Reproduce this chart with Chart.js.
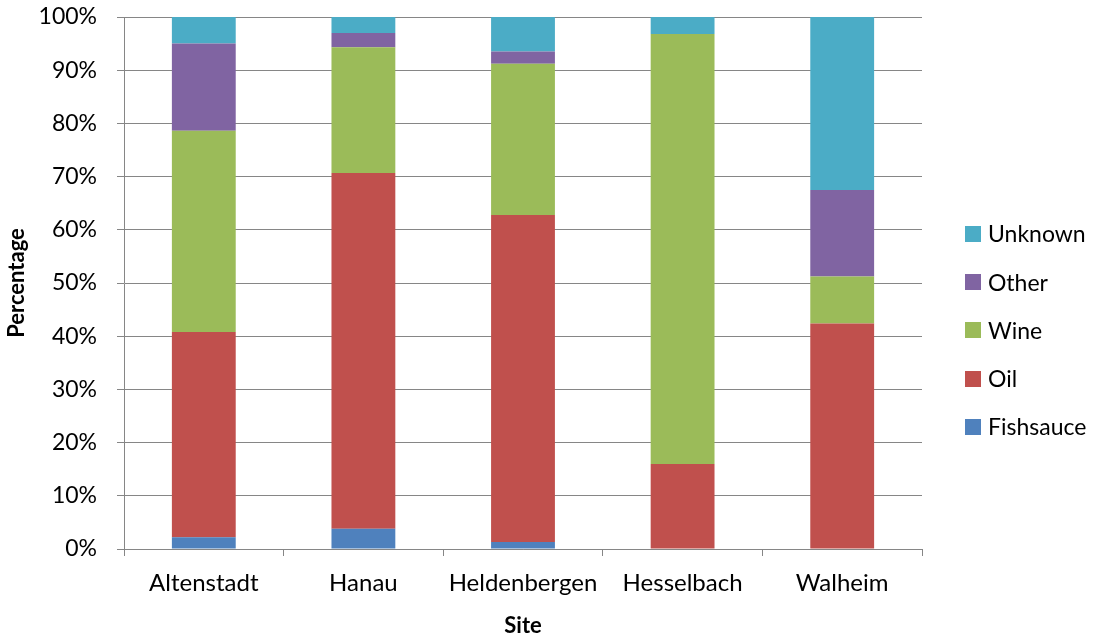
<!DOCTYPE html>
<html>
<head>
<meta charset="utf-8">
<script src="https://cdn.jsdelivr.net/npm/chart.js@4/dist/chart.umd.min.js"></script>
<style>
  html, body { margin: 0; padding: 0; background: #fff; }
  canvas { display: block; }
</style>
</head>
<body>
<canvas id="c" width="1099" height="637"></canvas>
<script>
const categories = ['Altenstadt', 'Hanau', 'Heldenbergen', 'Hesselbach', 'Walheim'];
const fishsauce = [2.2, 3.8, 1.3, 0, 0];
const oil       = [38.6, 66.9, 61.5, 16.0, 42.4];
const wine      = [37.8, 23.6, 28.4, 80.8, 8.8];
const other     = [16.4, 2.7, 2.3, 0, 16.3];
const unknown   = [5.0, 3.0, 6.5, 3.2, 32.5];
const yTicks = [0, 10, 20, 30, 40, 50, 60, 70, 80, 90, 100];

const FONT = 'Lato';
const GRID = '#868686';

const legendPlugin = {
  id: 'sideLegend',
  afterDraw(chart) {
    const ctx = chart.ctx;
    const ds = chart.data.datasets.slice().reverse();
    ctx.save();
    ctx.font = '23px ' + FONT;
    ctx.textBaseline = 'middle';
    ctx.textAlign = 'left';
    ds.forEach((d, i) => {
      const cy = 234 + i * 48.2;
      ctx.fillStyle = d.backgroundColor;
      ctx.fillRect(965, Math.round(cy - 8), 16, 16);
      ctx.fillStyle = '#000';
      ctx.fillText(d.label, 988, cy + 1);
    });
    ctx.restore();
  }
};

new Chart(document.getElementById('c'), {
  type: 'bar',
  data: {
    labels: categories,
    datasets: [
      { label: 'Fishsauce', data: fishsauce, backgroundColor: '#4F81BD' },
      { label: 'Oil', data: oil, backgroundColor: '#C0504D' },
      { label: 'Wine', data: wine, backgroundColor: '#9BBB59' },
      { label: 'Other', data: other, backgroundColor: '#8064A2' },
      { label: 'Unknown', data: unknown, backgroundColor: '#4BACC6' }
    ]
  },
  options: {
    responsive: false,
    animation: false,
    devicePixelRatio: 1,
    layout: { padding: { top: 17, right: 177, bottom: 0, left: 0 } },
    datasets: { bar: { barPercentage: 0.4, categoryPercentage: 1.0, borderWidth: 0, skipNull: true } },
    plugins: { legend: { display: false }, tooltip: { enabled: false } },
    scales: {
      x: {
        stacked: true,
        afterFit: s => { s.height = 88; },
        grid: { drawOnChartArea: false, drawTicks: true, tickLength: 7, color: GRID, offset: true },
        border: { color: GRID, width: 1 },
        ticks: { color: '#000', font: { family: FONT, size: 24 }, padding: 13, maxRotation: 0, autoSkip: false },
        title: { display: true, text: 'Site', color: '#000', font: { family: FONT, size: 22, weight: 'bold', lineHeight: 1.0 }, padding: { top: 0, bottom: 0 } }
      },
      y: {
        stacked: true,
        min: 0, max: 100,
        afterFit: s => { s.width = 124; s.paddingTop = 0; s.paddingBottom = 0; },
        afterBuildTicks: s => { s.ticks = yTicks.map(v => ({ value: v })); },
        grid: { color: GRID, lineWidth: 1, tickLength: 7 },
        border: { color: GRID, width: 1 },
        ticks: { color: '#000', font: { family: FONT, size: 23 }, padding: 20, callback: v => v + '%' },
        title: { display: true, text: 'Percentage', color: '#000', font: { family: FONT, size: 22, weight: 'bold', lineHeight: 1.1 }, padding: { top: 5, bottom: 0 } }
      }
    }
  },
  plugins: [legendPlugin]
});
</script>
</body>
</html>
